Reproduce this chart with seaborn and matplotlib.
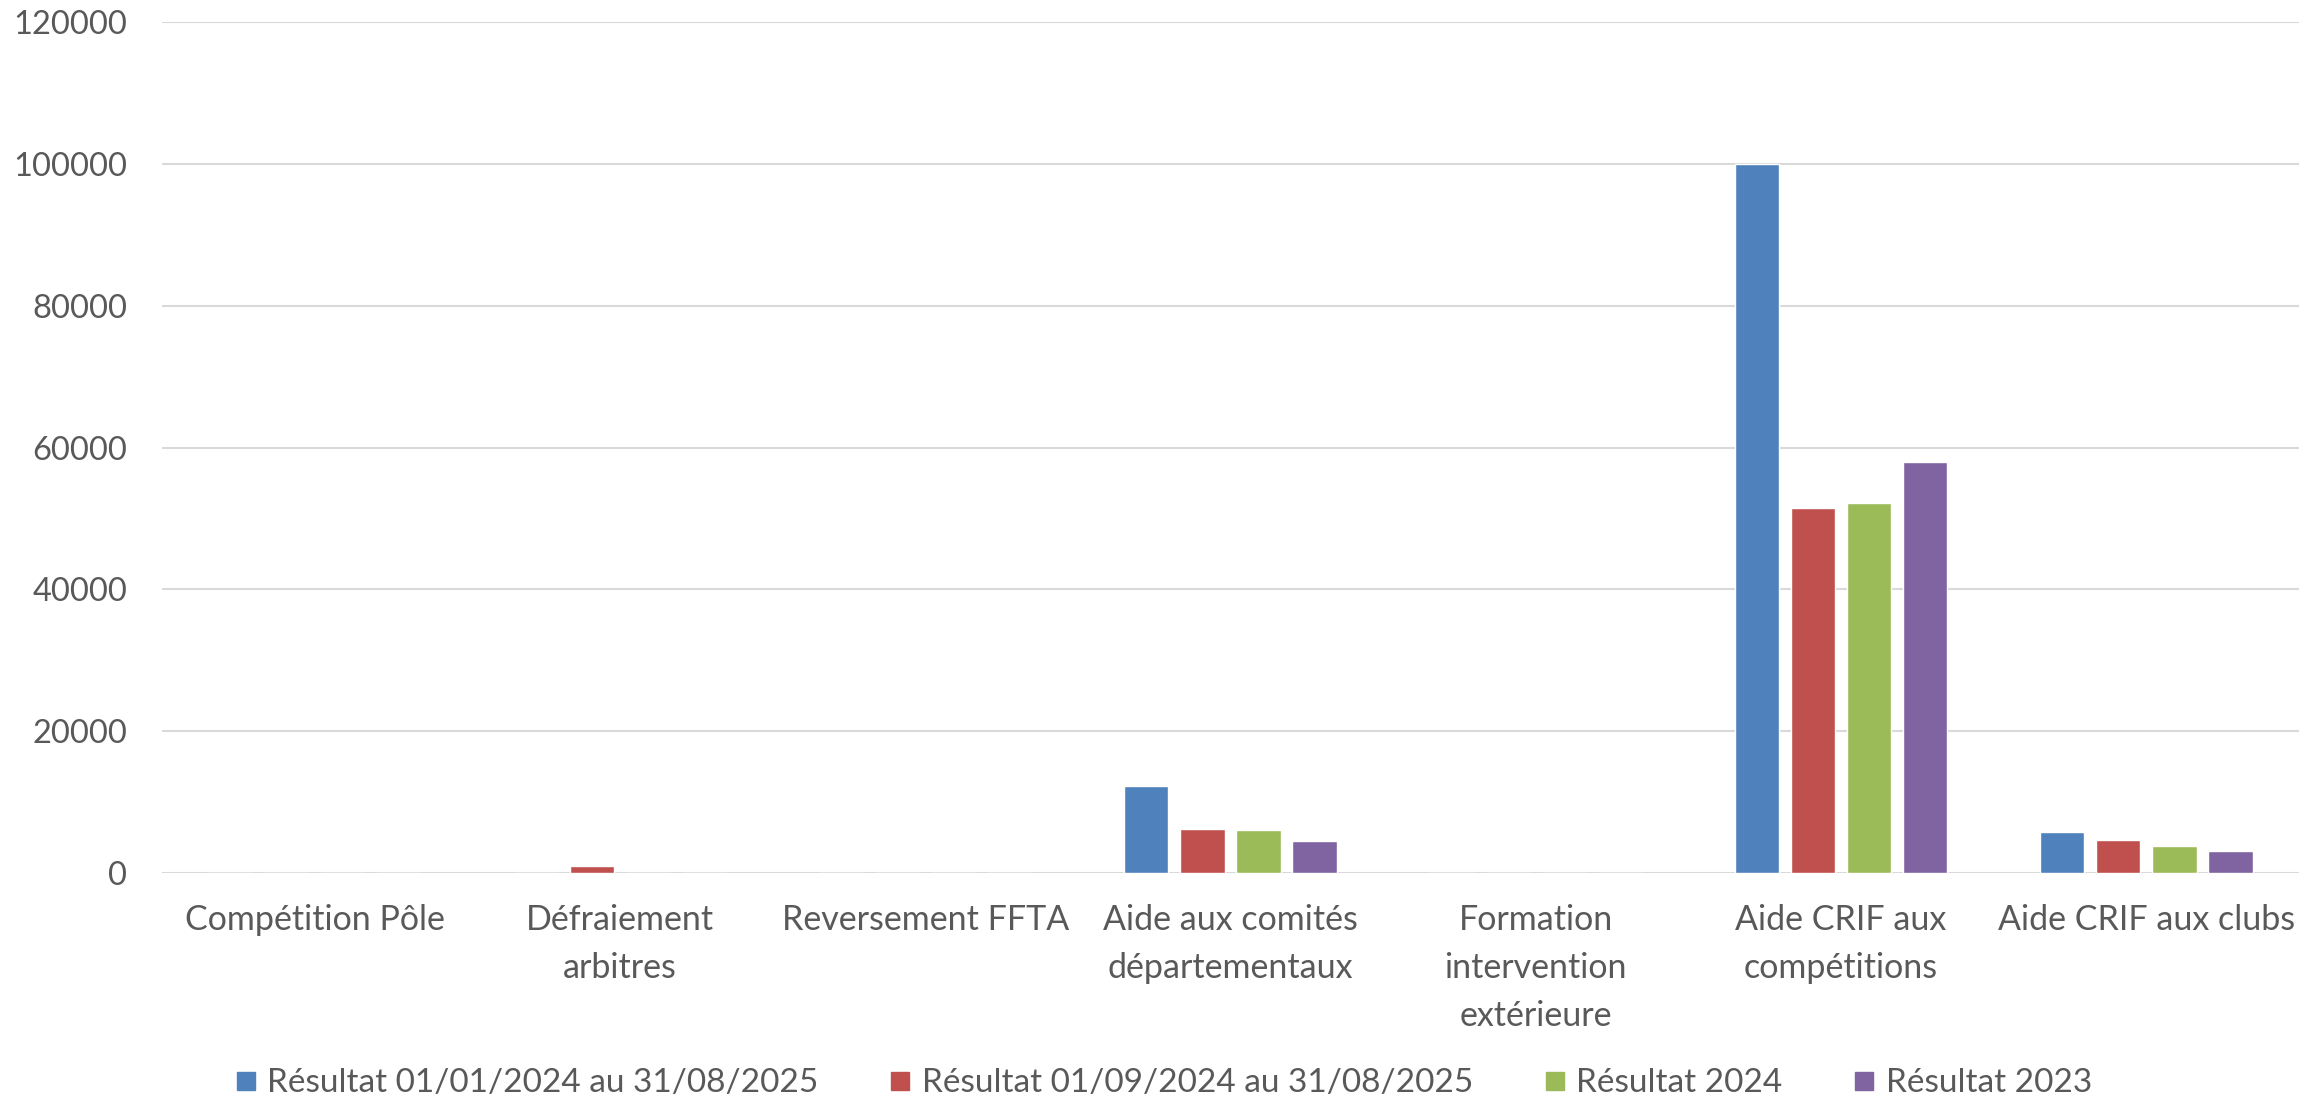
import pandas as pd
import matplotlib
matplotlib.use("Agg")
import matplotlib.pyplot as plt
from matplotlib.lines import Line2D
import seaborn as sns

# données
categories = [
    "Compétition Pôle",
    "Défraiement\narbitres",
    "Reversement FFTA",
    "Aide aux comités\ndépartementaux",
    "Formation\nintervention\nextérieure",
    "Aide CRIF aux\ncompétitions",
    "Aide CRIF aux clubs",
]
series_names = [
    "Résultat 01/01/2024 au 31/08/2025",
    "Résultat 01/09/2024 au 31/08/2025",
    "Résultat 2024",
    "Résultat 2023",
]
res_2024_2025 = [0, 0, 0, 12340, 0, 100000, 5790]
res_sept_2025 = [40, 1000, 0, 6270, 0, 51490, 4620]
res_2024 = [0, 0, 0, 6030, 0, 52190, 3770]
res_2023 = [0, 0, 40, 4480, 0, 57980, 3060]
colors = ["#4F81BD", "#C0504D", "#9BBB59", "#8064A2"]

rows = []
for name, vals in zip(series_names, [res_2024_2025, res_sept_2025, res_2024, res_2023]):
    for cat, v in zip(categories, vals):
        rows.append({"categorie": cat, "serie": name, "valeur": v})
df = pd.DataFrame(rows)

sns.set_style("white")
plt.rcParams['font.family'] = ['Lato', 'DejaVu Sans']
text_color = "#595959"

fig = plt.figure(figsize=(23.21, 11.01), dpi=100)
ax = fig.add_axes([0.0698, 0.207, 0.9207, 0.773])

sns.barplot(data=df, x="categorie", y="valeur", hue="serie",
            order=categories, hue_order=series_names, palette=colors,
            width=0.735, gap=0.21, saturation=1, errorbar=None, ax=ax,
            legend=False)

ax.set_ylim(0, 120000)
ax.set_yticks(range(0, 120001, 20000))
ax.set_xlim(-0.5, len(categories) - 0.5)
ax.yaxis.grid(True, color="#D9D9D9", linewidth=1.5)
ax.set_axisbelow(True)
for s in ax.spines.values():
    s.set_visible(False)
ax.axhline(0, color="#D9D9D9", linewidth=2, zorder=0.5)

ax.set_xlabel("")
ax.set_ylabel("")
ax.tick_params(axis="both", length=0, colors=text_color)
ax.tick_params(axis="y", pad=25, labelsize=23.5)
ax.tick_params(axis="x", pad=22, labelsize=24.5)
for lab in ax.get_xticklabels():
    lab.set_linespacing(1.62)

handles = [Line2D([0], [0], marker="s", linestyle="none", markersize=13,
                  markerfacecolor=c, markeredgecolor=c) for c in colors]
leg = fig.legend(handles, series_names, loc="center", bbox_to_anchor=(0.5, 0.016),
                 ncol=4, frameon=False, fontsize=24, handletextpad=0.15,
                 columnspacing=1.95, handlelength=1.0)
for t in leg.get_texts():
    t.set_color(text_color)

fig.savefig("out.png", dpi=100)
plt.close(fig)
